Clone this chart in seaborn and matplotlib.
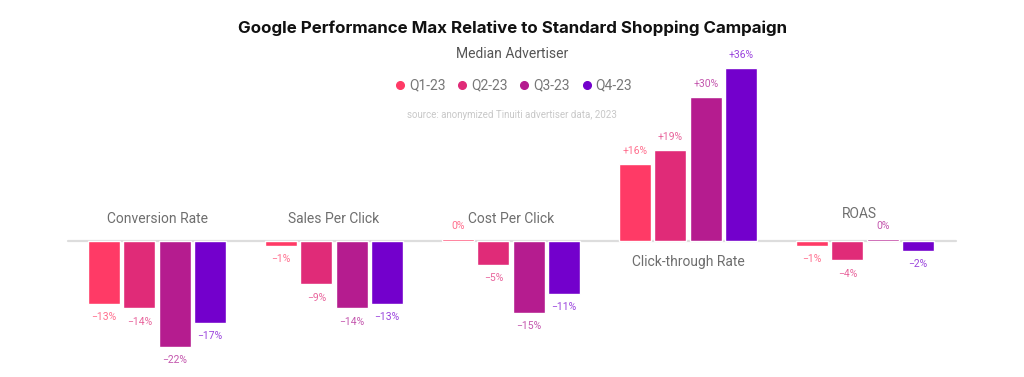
import matplotlib.pyplot as plt
import seaborn as sns
import pandas as pd
from matplotlib.lines import Line2D

# chart values (percent vs standard shopping)
metrics = ['Conversion Rate', 'Sales Per Click', 'Cost Per Click', 'Click-through Rate', 'ROAS']
quarters = ['Q1-23', 'Q2-23', 'Q3-23', 'Q4-23']
q1 = [-13, -1, 0.4, 16, -1]
q2 = [-14, -9, -5, 19, -4]
q3 = [-22, -14, -15, 30, 0.4]
q4 = [-17, -13, -11, 36, -2]

bar_colors = ['#FF3A66', '#E02B78', '#B51C8F', '#7300CC']
label_colors = ['#FF6F8E', '#E8649C', '#C457AE', '#9B45DD']

rows = []
for q, vals in zip(quarters, [q1, q2, q3, q4]):
    for m, v in zip(metrics, vals):
        rows.append({'metric': m, 'quarter': q, 'value': v})
df = pd.DataFrame(rows)


def fmt(v):
    r = int(round(v))
    if r == 0:
        return '0%'
    if r < 0:
        return '\u2212{}%'.format(abs(r))
    return '+{}%'.format(r)


sns.set_style('white')
plt.rcParams['font.family'] = ['Roboto', 'DejaVu Sans']

fig = plt.figure(figsize=(10.24, 3.77), dpi=100)
ax = fig.add_axes([0, 0, 1, 1])

ax.axhline(0, xmin=0.066, xmax=0.934, color='#DDDDDD', lw=1.6, zorder=0)

sns.barplot(data=df, x='metric', y='value', hue='quarter', order=metrics,
            hue_order=quarters, palette=bar_colors, width=0.8, gap=0.1,
            saturation=1, legend=False, ax=ax, zorder=2)

ax.set_xlim(-0.887, 4.898)
ax.set_ylim(-28.3, 50.2)
ax.axis('off')

for cont, col in zip(ax.containers, label_colors):
    vals = [b.get_height() for b in cont]
    ax.bar_label(cont, labels=[fmt(v) for v in vals], padding=6,
                 fontsize=7.5, color=col)

# category names sit on the side opposite the bars
for i, m in enumerate(metrics):
    if m == 'Click-through Rate':
        y = -4.4
    elif m == 'ROAS':
        y = 5.6
    else:
        y = 4.6
    ax.text(i - (0.03 if m == 'ROAS' else 0), y, m, ha='center', va='center',
            fontsize=10, color='#6E6E6E')

fig.text(0.5, 0.925, 'Google Performance Max Relative to Standard Shopping Campaign',
         ha='center', va='center', fontsize=12.2, fontweight='bold', color='#111111',
         family=['Inter', 'DejaVu Sans'])
fig.text(0.5, 0.858, 'Median Advertiser', ha='center', va='center',
         fontsize=10, color='#555555')
fig.text(0.5, 0.695, 'source: anonymized Tinuiti advertiser data, 2023',
         ha='center', va='center', fontsize=7, color='#C8C8C8')

handles = [Line2D([], [], marker='o', ls='', color=c, markersize=5.5) for c in bar_colors]
fig.legend(handles, quarters, loc='center', bbox_to_anchor=(0.5, 0.773), ncol=4,
           frameon=False, fontsize=10, labelcolor='#777777', handletextpad=0.05,
           columnspacing=0.6, handlelength=1.2)

fig.savefig('out.png', dpi=100)
